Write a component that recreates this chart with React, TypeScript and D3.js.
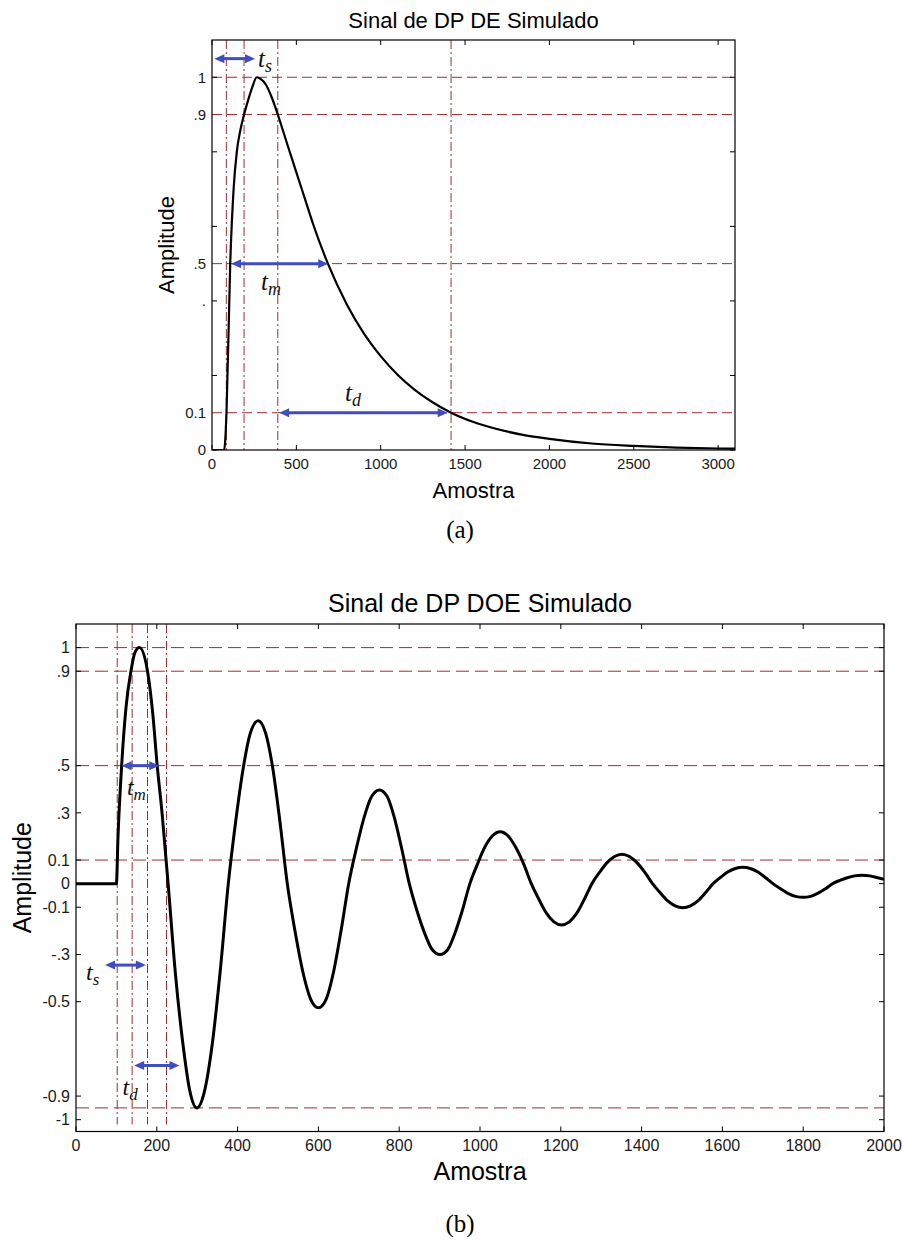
import React from 'react';
import * as d3 from 'd3';

// ---------- DATA ----------
// Chart (a): double-exponential pulse
const deSamples = [0, 72, 86, 108, 128, 147, 168, 190, 215, 240, 265, 290, 320, 355, 390, 450, 500, 550, 600, 687, 800, 900, 1000, 1100, 1200, 1300, 1417, 1550, 1700, 1850, 2000, 2250, 2500, 2750, 3000, 3100];
const deAmplitude = [0, 0, 0.1, 0.5, 0.7, 0.8, 0.858, 0.9, 0.94, 0.975, 1.0, 0.995, 0.98, 0.945, 0.9, 0.815, 0.745, 0.675, 0.605, 0.5, 0.39, 0.313, 0.252, 0.202, 0.162, 0.13, 0.1, 0.075, 0.055, 0.04, 0.03, 0.0175, 0.011, 0.0065, 0.004, 0.0035];
const deXTicks = [0, 500, 1000, 1500, 2000, 2500, 3000];
const deYTicks = [0, 0.2, 0.4, 0.6, 0.8, 1.0];
const deYLabelValues = [0, 0.1, 0.4, 0.5, 0.9, 1];
const deYLabelTexts = ['0', '0.1', '.', '.5', '.9', '1'];
const deHLines = [1, 0.9, 0.5, 0.1];
const deVLines = [85, 190, 390, 1417];
const deArrows = [
  { name: 's', x1: 14, x2: 255, y: 1.05, lx: 273, ly: 1.028 },
  { name: 'm', x1: 113, x2: 689, y: 0.5, lx: 290, ly: 0.429 },
  { name: 'd', x1: 398, x2: 1397, y: 0.1, lx: 788, ly: 0.131 },
];

// Chart (b): damped oscillatory pulse
const doeSamples = [0, 100, 104, 113, 124, 136, 146, 157, 177, 190, 201, 213, 223, 228,
  246, 264, 282, 299, 318, 338, 357, 377, 395, 414, 432, 451, 469, 487, 505, 523,
  542, 561, 581, 600, 619, 638, 656, 675, 694, 713, 732, 751, 770, 788, 806, 825,
  844, 863, 882, 901, 920, 938, 956, 975, 994, 1012, 1031, 1050, 1069, 1088, 1108, 1127,
  1146, 1164, 1183, 1202, 1221, 1240, 1258, 1277, 1296, 1314, 1333, 1351, 1370, 1389, 1408, 1427,
  1446, 1464, 1483, 1502, 1521, 1540, 1558, 1577, 1595, 1613, 1632, 1650, 1669, 1688, 1706, 1725,
  1744, 1762, 1781, 1800, 1818, 1836, 1855, 1873, 1891, 1909, 1927, 1945, 1965, 1982, 2000];
const doeAmplitude = [0, 0, 0.2, 0.5, 0.75, 0.9, 0.98, 1.0, 0.9, 0.72, 0.5, 0.3, 0.1, 0,
  -0.38, -0.67, -0.88, -0.95, -0.88, -0.67, -0.37, 0, 0.26, 0.49, 0.64, 0.69, 0.64, 0.49, 0.26, 0,
  -0.2, -0.37, -0.49, -0.526, -0.49, -0.37, -0.2, 0, 0.15, 0.28, 0.37, 0.397, 0.37, 0.28, 0.15, 0,
  -0.115, -0.21, -0.28, -0.3, -0.28, -0.21, -0.115, 0, 0.084, 0.155, 0.203, 0.22, 0.203, 0.155, 0.084, 0,
  -0.067, -0.124, -0.162, -0.175, -0.162, -0.124, -0.067, 0, 0.048, 0.088, 0.115, 0.125, 0.115, 0.088, 0.048, 0,
  -0.039, -0.072, -0.094, -0.102, -0.094, -0.072, -0.039, 0, 0.026, 0.049, 0.064, 0.069, 0.064, 0.049, 0.026, 0,
  -0.022, -0.041, -0.054, -0.058, -0.054, -0.041, -0.022, 0, 0.014, 0.025, 0.033, 0.036, 0.033, 0.026, 0.018];
const doeXTicks = [0, 200, 400, 600, 800, 1000, 1200, 1400, 1600, 1800, 2000];
const doeYTicks = [-1, -0.9, -0.5, -0.3, -0.1, 0, 0.1, 0.3, 0.5, 0.9, 1];
const doeYLabelTexts = ['-1', '-0.9', '-0.5', '-.3', '-0.1', '0', '0.1', '.3', '.5', '.9', '1'];
const doeHLines = [1, 0.9, 0.5, 0.1, -0.95];
const doeVLines = [102, 139, 177, 224];
const doeArrows = [
  { name: 'm', x1: 113, x2: 206, y: 0.5, lx: 126, ly: 0.375 },
  { name: 's', x1: 72, x2: 173, y: -0.345, lx: 25, ly: -0.408 },
  { name: 'd', x1: 144, x2: 256, y: -0.77, lx: 115, ly: -0.896 },
];

// ---------- STYLE ----------
const RED = '#9b2f2f';
const BLUE = '#3f4dbf';
const SANS = '"Liberation Sans", Arial, sans-serif';
const SERIF = '"Liberation Serif", "Times New Roman", serif';

type Arr = { name: string; x1: number; x2: number; y: number; lx: number; ly: number };

function Panel(props: {
  id: string;
  left: number; right: number; top: number; bottom: number;
  xDomain: [number, number]; yDomain: [number, number];
  xs: number[]; ys: number[];
  xTicks: number[]; yTicks: number[];
  yLabelValues: number[]; yLabelTexts: string[];
  hLines: number[]; vLines: number[]; vLineBottom: number;
  arrows: Arr[];
  title: string; titleY: number;
  tickFont: number; labelFont: number;
  xLabelY: number; xTitleY: number; yTitleX: number;
  yLabelX: number;
  caption: string; captionY: number;
  strokeW: number; dash: string;
  tSize: number; subSize: number;
}) {
  const p = props;
  const x = d3.scaleLinear().domain(p.xDomain).range([p.left, p.right]);
  const y = d3.scaleLinear().domain(p.yDomain).range([p.bottom, p.top]);
  const pts: [number, number][] = p.xs.map((v, i) => [v, p.ys[i]]);
  const line = d3.line<[number, number]>().x(d => x(d[0])).y(d => y(d[1])).curve(d3.curveMonotoneX);
  const cx = (p.left + p.right) / 2;
  const cy = (p.top + p.bottom) / 2;
  const tick = 5;
  const head = 10;
  const hw = 4.5;
  return (
    <g>
      <defs>
        <clipPath id={p.id + 'clip'}>
          <rect x={p.left} y={p.top} width={p.right - p.left} height={p.bottom - p.top} />
        </clipPath>
      </defs>
      {p.hLines.map((v, i) => (
        <line key={'h' + i} x1={p.left} x2={p.right} y1={y(v)} y2={y(v)} stroke={RED} strokeWidth={1} strokeDasharray={p.dash} />
      ))}
      {p.vLines.map((v, i) => (
        <line key={'v' + i} x1={x(v)} x2={x(v)} y1={p.top} y2={y(p.vLineBottom)} stroke={RED} strokeWidth={1} strokeDasharray="9,3,2,3" />
      ))}
      <path d={line(pts) || ''} fill="none" stroke="#000" strokeWidth={p.strokeW} strokeLinejoin="round" clipPath={`url(#${p.id}clip)`} />
      <rect x={p.left} y={p.top} width={p.right - p.left} height={p.bottom - p.top} fill="none" stroke="#000" strokeWidth={1.2} />
      {p.xTicks.map((v, i) => (
        <g key={'xt' + i}>
          <line x1={x(v)} x2={x(v)} y1={p.bottom} y2={p.bottom - tick} stroke="#000" />
          <line x1={x(v)} x2={x(v)} y1={p.top} y2={p.top + tick} stroke="#000" />
          <text x={x(v)} y={p.xLabelY} textAnchor="middle" fontFamily={SANS} fontSize={p.tickFont} fill="#1a1a1a">{v}</text>
        </g>
      ))}
      {p.yTicks.map((v, i) => (
        <g key={'yt' + i}>
          <line x1={p.left} x2={p.left + tick} y1={y(v)} y2={y(v)} stroke="#000" />
          <line x1={p.right} x2={p.right - tick} y1={y(v)} y2={y(v)} stroke="#000" />
        </g>
      ))}
      {p.yLabelValues.map((v, i) => (
        <text key={'yl' + i} x={p.yLabelX} y={y(v) + p.tickFont * 0.36} textAnchor="end" fontFamily={SANS} fontSize={p.tickFont} fill="#1a1a1a">{p.yLabelTexts[i]}</text>
      ))}
      {p.arrows.map((a, i) => {
        const X1 = x(a.x1), X2 = x(a.x2), Y = y(a.y);
        return (
          <g key={'a' + i}>
            <line x1={X1 + head * 0.6} x2={X2 - head * 0.6} y1={Y} y2={Y} stroke={BLUE} strokeWidth={3} />
            <polygon points={`${X1},${Y} ${X1 + head},${Y - hw} ${X1 + head},${Y + hw}`} fill={BLUE} />
            <polygon points={`${X2},${Y} ${X2 - head},${Y - hw} ${X2 - head},${Y + hw}`} fill={BLUE} />
            <text x={x(a.lx)} y={y(a.ly)} fontFamily={SERIF} fontStyle="italic" fontSize={p.tSize} fill="#111">
              t<tspan fontSize={p.subSize} dy={p.subSize * 0.28}>{a.name}</tspan>
            </text>
          </g>
        );
      })}
      <text x={cx} y={p.titleY} textAnchor="middle" fontFamily={SANS} fontSize={p.labelFont} fill="#000">{p.title}</text>
      <text x={cx} y={p.xTitleY} textAnchor="middle" fontFamily={SANS} fontSize={p.labelFont} fill="#000">Amostra</text>
      <text transform={`translate(${p.yTitleX},${cy}) rotate(-90)`} textAnchor="middle" fontFamily={SANS} fontSize={p.labelFont} fill="#000">Amplitude</text>
      <text x={460} y={p.captionY} textAnchor="middle" fontFamily={SERIF} fontSize={25} fill="#000">{p.caption}</text>
    </g>
  );
}

export default function App() {
  return (
    <svg width={902} height={1240} viewBox="0 0 902 1240" style={{ position: 'absolute', left: 0, top: 0, background: '#fff' }}>
      <rect x={0} y={0} width={902} height={1240} fill="#fff" />
      <Panel
        id="de"
        left={212} right={735} top={40} bottom={450}
        xDomain={[0, 3100]} yDomain={[0, 1.1]}
        xs={deSamples} ys={deAmplitude}
        xTicks={deXTicks} yTicks={deYTicks}
        yLabelValues={deYLabelValues} yLabelTexts={deYLabelTexts}
        hLines={deHLines} vLines={deVLines} vLineBottom={0}
        arrows={deArrows}
        title="Sinal de DP DE Simulado" titleY={28}
        tickFont={15} labelFont={22}
        xLabelY={469} xTitleY={498} yTitleX={174} yLabelX={206}
        caption="(a)" captionY={538}
        strokeW={2.2} dash="10,5"
        tSize={25} subSize={18}
      />
      <Panel
        id="doe"
        left={76} right={884} top={624} bottom={1131.5}
        xDomain={[0, 2000]} yDomain={[-1.05, 1.1]}
        xs={doeSamples} ys={doeAmplitude}
        xTicks={doeXTicks} yTicks={doeYTicks}
        yLabelValues={doeYTicks} yLabelTexts={doeYLabelTexts}
        hLines={doeHLines} vLines={doeVLines} vLineBottom={-1.02}
        arrows={doeArrows}
        title="Sinal de DP DOE Simulado" titleY={612}
        tickFont={16} labelFont={25}
        xLabelY={1151} xTitleY={1180} yTitleX={31} yLabelX={70}
        caption="(b)" captionY={1232}
        strokeW={3} dash="13,6"
        tSize={24} subSize={17}
      />
    </svg>
  );
}
